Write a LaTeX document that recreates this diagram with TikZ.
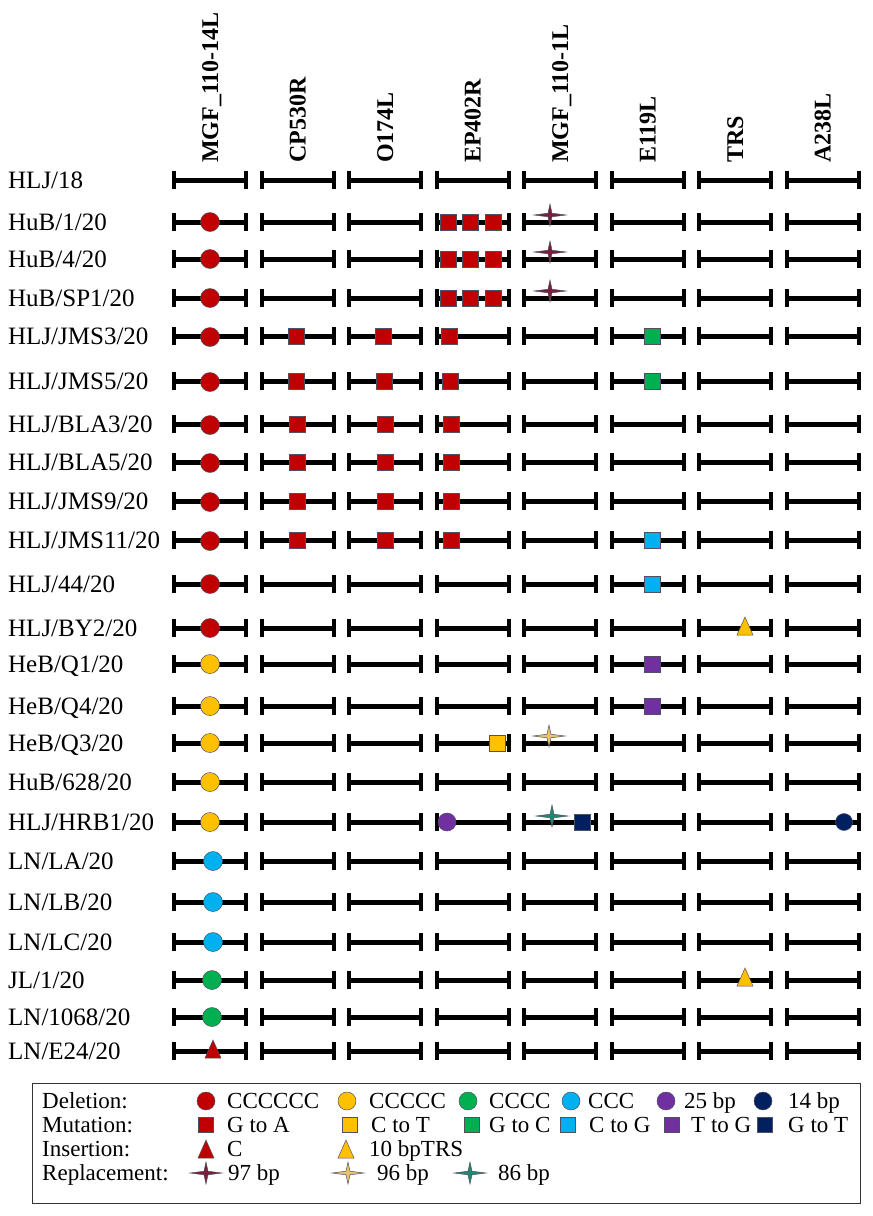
\documentclass[tikz,border=0pt]{standalone}
\usepackage{fontspec}
\setmainfont{Liberation Serif}
\usetikzlibrary{positioning}
\definecolor{gred}{RGB}{192,0,0}
\definecolor{gyellow}{RGB}{255,192,0}
\definecolor{ggreen}{RGB}{0,176,80}
\definecolor{gblue}{RGB}{0,176,240}
\definecolor{gpurple}{RGB}{112,48,160}
\definecolor{gnavy}{RGB}{0,32,96}
\definecolor{sred}{RGB}{120,30,60}
\definecolor{syellow}{RGB}{228,196,108}
\definecolor{steal}{RGB}{32,136,112}
\definecolor{rim}{RGB}{80,80,100}

\begin{document}
\begin{tikzpicture}[x=1pt, y=-1pt,
  strain/.style={anchor=base west, inner sep=0pt, font=\fontsize{25}{30}\selectfont},
  genename/.style={rotate=90, anchor=base west, inner sep=0pt,
                   font=\bfseries\fontsize{24}{28}\selectfont},
  genebar/.style={line width=5pt},
  barend/.style={line width=4pt},
  delcirc/.style={circle, draw=rim, line width=0.5pt, inner sep=0pt, minimum size=19pt},
  mutsq/.style={rectangle, draw=rim, line width=0.5pt, inner sep=0pt, minimum size=16pt},
  markrim/.style={draw=rim, line width=0.5pt},
  instri/.pic={\path[pic actions] (-8,7) -- (8,7) -- (0,-11) -- cycle;},
  replstar/.pic={\path[pic actions] (-16,0) -- (-2,-1.8) -- (0,-11) -- (2,-1.8)
                 -- (16,0) -- (2,1.8) -- (0,11) -- (-2,1.8) -- cycle;},
  legtext/.style={anchor=base west, inner sep=0pt, font=\fontsize{23}{27}\selectfont},
  legbox/.style={draw=black!80, line width=0.8pt}
]
\useasboundingbox (0,0) rectangle (873,1216);

% gene columns
\foreach \g [count=\i from 0] in {MGF\_110-14L, CP530R, O174L, EP402R,
                                   MGF\_110-1L, E119L, TRS, A238L}
  \node[genename] (g\i) at ({218+87.5*\i},163) {\g};

% strains and genome bars
\foreach \y/\s [count=\r] in {180/{HLJ/18}, 222/{HuB/1/20}, 259/{HuB/4/20},
    298/{HuB/SP1/20}, 336/{HLJ/JMS3/20}, 381/{HLJ/JMS5/20}, 424/{HLJ/BLA3/20},
    462/{HLJ/BLA5/20}, 501/{HLJ/JMS9/20}, 540/{HLJ/JMS11/20}, 584/{HLJ/44/20},
    628/{HLJ/BY2/20}, 664/{HeB/Q1/20}, 706/{HeB/Q4/20}, 743/{HeB/Q3/20},
    782/{HuB/628/20}, 822/{HLJ/HRB1/20}, 861/{LN/LA/20}, 902/{LN/LB/20},
    942/{LN/LC/20}, 980/{JL/1/20}, 1017/{LN/1068/20}, 1051/{LN/E24/20}} {
  \node[strain] (s\r) at (8,\y+8) {\s};
  \foreach \i in {0,...,7} {
    \draw[genebar] ({172+87.5*\i},\y) -- ({248+87.5*\i},\y);
    \draw[barend] ({174+87.5*\i},\y-9) -- ({174+87.5*\i},\y+9)
                  ({246+87.5*\i},\y-9) -- ({246+87.5*\i},\y+9);
  }
}

% HuB strains
\foreach \y [count=\k from 2] in {222,259,298} {
  \node[delcirc, fill=gred] (d\k) at (210,\y) {};
  \foreach \x [count=\j] in {448,470,493}
    \node[mutsq, fill=gred] (m\k-\j) at (\x,\y) {};
  \pic[markrim, fill=sred] (p\k) at (550,\y-7) {replstar};
}

% HLJ strains with G to A
\foreach \y/\a/\b/\c [count=\k from 5] in {336/296/383/449, 381/296/384/450,
    424/297/385/451, 462/297/385/451, 501/297/385/451, 540/297/385/451} {
  \node[delcirc, fill=gred] (d\k) at (210,\y+1) {};
  \node[mutsq, fill=gred] (m\k-1) at (\a,\y) {};
  \node[mutsq, fill=gred] (m\k-2) at (\b,\y) {};
  \node[mutsq, fill=gred] (m\k-3) at (\c,\y) {};
}
\node[mutsq, fill=ggreen] (e5) at (652,336) {};
\node[mutsq, fill=ggreen] (e6) at (652,381) {};
\node[mutsq, fill=gblue] (e10) at (652,540) {};

\node[delcirc, fill=gred] (d11) at (210,584) {};
\node[mutsq, fill=gblue] (e11) at (652,584) {};

\node[delcirc, fill=gred] (d12) at (210,628) {};
\pic[markrim, fill=gyellow] (t12) at (745,628) {instri};

% yellow deletion strains
\node[delcirc, fill=gyellow] (d13) at (210,664) {};
\node[mutsq, fill=gpurple] (e13) at (652,664) {};
\node[delcirc, fill=gyellow] (d14) at (210,706) {};
\node[mutsq, fill=gpurple] (e14) at (652,706) {};
\node[delcirc, fill=gyellow] (d15) at (210,743) {};
\node[mutsq, fill=gyellow] (m15) at (497,743) {};
\pic[markrim, fill=syellow] (p15) at (549,736) {replstar};
\node[delcirc, fill=gyellow] (d16) at (210,782) {};
\node[delcirc, fill=gyellow] (d17) at (210,822) {};
\node[delcirc, fill=gpurple, minimum size=18pt] (x17) at (447,822) {};
\pic[markrim, fill=steal] (p17) at (552,816) {replstar};
\node[mutsq, fill=gnavy] (m17) at (582,822) {};
\node[delcirc, fill=gnavy, minimum size=17pt] (y17) at (844,822) {};

% LN and JL strains
\foreach \y [count=\k from 18] in {861,902,942}
  \node[delcirc, fill=gblue] (d\k) at (213,\y) {};
\node[delcirc, fill=ggreen] (d21) at (212,980) {};
\pic[markrim, fill=gyellow] (t21) at (745,979) {instri};
\node[delcirc, fill=ggreen] (d22) at (212,1017) {};
\pic[markrim, fill=gred] (t23) at (213,1051) {instri};

% legend
\draw[legbox] (32,1083) rectangle (860,1203);
\foreach \y/\t [count=\k] in {1101/Deletion:, 1125/Mutation:, 1149/Insertion:,
                               1173/Replacement:}
  \node[legtext] (l\k) at (42,\y+7.6) {\t};

\foreach \x/\c/\t/\tx [count=\k] in {206/gred/CCCCCC/227, 347/gyellow/CCCCC/369,
    468/ggreen/CCCC/489, 571/gblue/CCC/588, 666/gpurple/25 bp/684, 763/gnavy/14 bp/788} {
  \node[delcirc, fill=\c, minimum size=18pt] (ld\k) at (\x,1101) {};
  \node[legtext] (ldt\k) at (\tx,1108.6) {\t};
}
\foreach \x/\c/\t/\tx [count=\k] in {206/gred/G to A/227, 350/gyellow/C to T/371,
    472/ggreen/G to C/489, 568/gblue/C to G/589, 672/gpurple/T to G/691, 765/gnavy/G to T/788} {
  \node[mutsq, fill=\c, minimum size=15pt] (lm\k) at (\x,1125) {};
  \node[legtext] (lmt\k) at (\tx,1132.6) {\t};
}
\pic[markrim, fill=gred] (li1) at (206,1151) {instri};
\node[legtext] (lit1) at (227,1156.6) {C};
\pic[markrim, fill=gyellow] (li2) at (346,1151) {instri};
\node[legtext] (lit2) at (369,1156.6) {10 bpTRS};

\foreach \x/\c/\t/\tx [count=\k] in {206/sred/97 bp/228, 348/syellow/96 bp/377,
    470/steal/86 bp/498} {
  \pic[markrim, fill=\c] (lr\k) at (\x,1173) {replstar};
  \node[legtext] (lrt\k) at (\tx,1180.6) {\t};
}
\end{tikzpicture}
\end{document}
